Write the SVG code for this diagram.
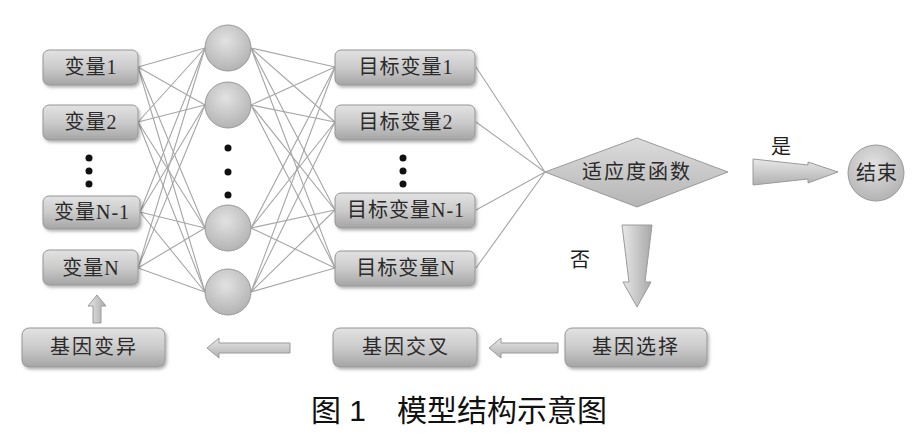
<svg xmlns="http://www.w3.org/2000/svg" width="918" height="433" viewBox="0 0 918 433">
<defs>
<linearGradient id="gBox" x1="0" y1="0" x2="0" y2="1">
<stop offset="0" stop-color="#e2e2e2"/>
<stop offset="0.5" stop-color="#cbcbcb"/>
<stop offset="1" stop-color="#a5a5a5"/>
</linearGradient>
<radialGradient id="gCirc" cx="0.45" cy="0.35" r="0.7">
<stop offset="0" stop-color="#e2e2e2"/>
<stop offset="1" stop-color="#b0b0b0"/>
</radialGradient>
<linearGradient id="gArrH" x1="0" y1="0" x2="0" y2="1">
<stop offset="0" stop-color="#e8e8e8"/>
<stop offset="1" stop-color="#b0b0b0"/>
</linearGradient>
<linearGradient id="gArrV" x1="0" y1="0" x2="1" y2="0">
<stop offset="0" stop-color="#e8e8e8"/>
<stop offset="1" stop-color="#a8a8a8"/>
</linearGradient>
<linearGradient id="gDia" x1="0" y1="0" x2="0" y2="1">
<stop offset="0" stop-color="#dcdcdc"/>
<stop offset="1" stop-color="#b5b5b5"/>
</linearGradient>
<filter id="sh" x="-10%" y="-20%" width="125%" height="150%">
<feDropShadow dx="1.5" dy="2" stdDeviation="1.5" flood-color="#000" flood-opacity="0.3"/>
</filter>
</defs>
<style>
.box{fill:url(#gBox);stroke:#969696;stroke-width:1;filter:url(#sh)}
.circ{fill:url(#gCirc);stroke:#999;stroke-width:1}
.t{font-family:"Liberation Serif","Noto Sans CJK SC",serif;font-size:20px;letter-spacing:1px;fill:#2a2a2a;text-anchor:middle;dominant-baseline:central}
.tw{letter-spacing:2px}
.lbl{font-family:"Liberation Serif","Noto Sans CJK SC",serif;font-size:20px;fill:#1e1e1e;text-anchor:middle;dominant-baseline:central}
.ln{stroke:#a6a6a6;stroke-width:1.1;fill:none}
.dot{fill:#111}
.arr{stroke:#9a9a9a;stroke-width:1}
.cap{font-family:"Liberation Sans","Noto Sans CJK SC",sans-serif;font-size:30px;fill:#111}
</style>

<g id="connectors">
<g class="ln">
<path d="M138,67 L205,48 M138,67 L205,105 M138,67 L205,228 M138,67 L205,292"/>
<path d="M138,122 L205,48 M138,122 L205,105 M138,122 L205,228 M138,122 L205,292"/>
<path d="M140,212 L205,48 M140,212 L205,105 M140,212 L205,228 M140,212 L205,292"/>
<path d="M138,268 L205,48 M138,268 L205,105 M138,268 L205,228 M138,268 L205,292"/>
<path d="M251,48 L335,67 M251,48 L335,122 M251,48 L335,210 M251,48 L335,268"/>
<path d="M251,105 L335,67 M251,105 L335,122 M251,105 L335,210 M251,105 L335,268"/>
<path d="M251,228 L335,67 M251,228 L335,122 M251,228 L335,210 M251,228 L335,268"/>
<path d="M251,292 L335,67 M251,292 L335,122 M251,292 L335,210 M251,292 L335,268"/>
<path d="M476,67 L545,172 M476,122 L545,172 M476,210 L545,172 M476,268 L545,172"/>
</g>
<path class="arr" fill="url(#gArrH)" d="M753,159 L808,165 L808,162 L838,172 L808,183 L808,179 L753,185 Z"/>
<path class="arr" fill="url(#gArrV)" d="M622,225 L652,225 L645,282 L651,282 L637,307 L623,282 L629,282 Z"/>
<path class="arr" fill="url(#gArrH)" d="M558,343 L501,343 L501,338 L489,348 L501,358 L501,353 L558,353 Z"/>
<path class="arr" fill="url(#gArrH)" d="M290,343 L219,343 L219,338 L207,348 L219,358 L219,353 L290,353 Z"/>
<path class="arr" fill="url(#gArrV)" d="M93,323 L93,306 L88,306 L97,295 L106,306 L101,306 L101,323 Z"/>
<text class="lbl" x="781" y="147">是</text>
<text class="lbl" x="580" y="260">否</text>
</g>

<g id="in1"><rect class="box" x="43" y="50" width="95" height="35" rx="6"/><text class="t" x="91" y="67">变量1</text></g>
<g id="in2"><rect class="box" x="43" y="105" width="95" height="35" rx="6"/><text class="t" x="91" y="122">变量2</text></g>
<g id="in-dots"><circle class="dot" cx="89" cy="158" r="3.5"/><circle class="dot" cx="89" cy="171" r="3.5"/><circle class="dot" cx="89" cy="184" r="3.5"/></g>
<g id="inN1"><rect class="box" x="43" y="196" width="97" height="33" rx="6"/><text class="t" x="92" y="212">变量N-1</text></g>
<g id="inN"><rect class="box" x="43" y="250" width="95" height="35" rx="6"/><text class="t" x="91" y="268">变量N</text></g>

<g id="h1"><circle class="circ" cx="228" cy="48" r="23"/></g>
<g id="h2"><circle class="circ" cx="228" cy="105" r="23"/></g>
<g id="h-dots"><circle class="dot" cx="228" cy="148" r="3.5"/><circle class="dot" cx="228" cy="172" r="3.5"/><circle class="dot" cx="228" cy="195" r="3.5"/></g>
<g id="h3"><circle class="circ" cx="228" cy="228" r="23"/></g>
<g id="h4"><circle class="circ" cx="228" cy="292" r="23"/></g>

<g id="out1"><rect class="box" x="335" y="50" width="140" height="35" rx="6"/><text class="t" x="406" y="67">目标变量1</text></g>
<g id="out2"><rect class="box" x="335" y="105" width="140" height="35" rx="6"/><text class="t" x="406" y="122">目标变量2</text></g>
<g id="out-dots"><circle class="dot" cx="403" cy="158" r="3.5"/><circle class="dot" cx="403" cy="171" r="3.5"/><circle class="dot" cx="403" cy="184" r="3.5"/></g>
<g id="outN1"><rect class="box" x="335" y="193" width="140" height="35" rx="6"/><text class="t" x="406" y="210">目标变量N-1</text></g>
<g id="outN"><rect class="box" x="335" y="251" width="140" height="35" rx="6"/><text class="t" x="406" y="268">目标变量N</text></g>

<g id="fitness"><path d="M545,172 L637,138 L728,172 L637,207 Z" fill="url(#gDia)" stroke="#9a9a9a" stroke-width="1"/><text class="t tw" x="637" y="172">适应度函数</text></g>
<g id="end"><circle class="circ" cx="876" cy="173" r="28"/><text class="t" x="877" y="173">结束</text></g>
<g id="select"><rect class="box" x="565" y="328" width="142" height="39" rx="7"/><text class="t tw" x="636" y="347">基因选择</text></g>
<g id="cross"><rect class="box" x="333" y="328" width="144" height="39" rx="7"/><text class="t tw" x="406" y="347">基因交叉</text></g>
<g id="mutate"><rect class="box" x="22" y="328" width="143" height="39" rx="7"/><text class="t tw" x="94" y="347">基因变异</text></g>

<text class="cap" x="311" y="421">图 1</text>
<text class="cap" x="397" y="421">模型结构示意图</text>
</svg>
